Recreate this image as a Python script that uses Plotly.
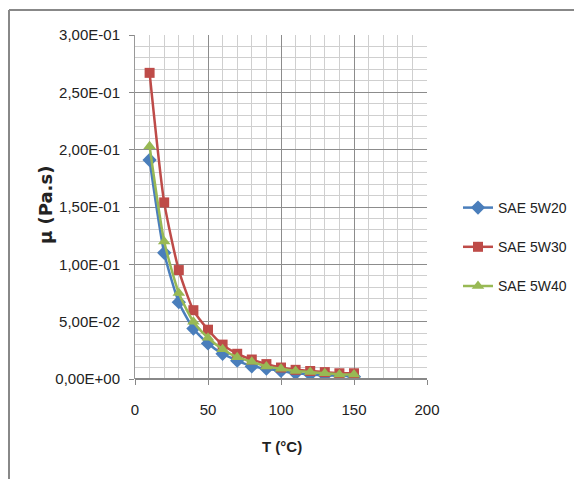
import plotly.graph_objects as go

temperature = [10, 20, 30, 40, 50, 60, 70, 80, 90, 100, 110, 120, 130, 140, 150]
sae_5w20 = [0.191, 0.110, 0.067, 0.044, 0.031, 0.022, 0.016, 0.011, 0.009, 0.007, 0.005, 0.004, 0.003, 0.003, 0.002]
sae_5w30 = [0.267, 0.154, 0.095, 0.060, 0.043, 0.030, 0.022, 0.017, 0.013, 0.010, 0.008, 0.007, 0.006, 0.005, 0.005]
sae_5w40 = [0.203, 0.120, 0.075, 0.050, 0.036, 0.026, 0.019, 0.015, 0.011, 0.009, 0.007, 0.006, 0.005, 0.004, 0.004]

y_tick_vals = [0, 0.05, 0.10, 0.15, 0.20, 0.25, 0.30]
y_tick_text = ["0,00E+00", "5,00E-02", "1,00E-01", "1,50E-01", "2,00E-01", "2,50E-01", "3,00E-01"]
x_tick_vals = [0, 50, 100, 150, 200]

FONT = "Liberation Sans Narrow, Arial Narrow, Liberation Sans, sans-serif"

fig = go.Figure()
series = [
    ("SAE 5W20", sae_5w20, "#4a7ebb", "diamond", 11),
    ("SAE 5W30", sae_5w30, "#be4b48", "square", 10),
    ("SAE 5W40", sae_5w40, "#98b954", "triangle-up", 11),
]
for i, (name, vals, col, sym, sz) in enumerate(series):
    fig.add_trace(go.Scatter(
        x=temperature, y=vals, name=name, mode="lines+markers",
        line=dict(color=col, width=2.5, shape="spline", smoothing=0.6),
        marker=dict(symbol=sym, size=sz, color=col),
        legendgroup=str(i),
    ))

# page has an 8px body margin: work in page coordinates and subtract it
OFF = 8
W, H = 582 - OFF, 479 - OFF
L, T = 135 - OFF, 35 - OFF
pw, ph = 292, 344
R, B = W - L - pw, H - T - ph


def px(xp):  # page x -> paper x
    return (xp - OFF - L) / pw


def py(yp):  # page y -> paper y
    return (T + ph - (yp - OFF)) / ph


fig.update_layout(
    width=W, height=H,
    margin=dict(l=L, r=R, t=T, b=B, autoexpand=False),
    paper_bgcolor="white", plot_bgcolor="white",
    font=dict(family=FONT, size=14, color="#222"),
    showlegend=True,
    legend=dict(xref="container", yref="container",
                x=(458 - OFF) / W, y=1 - (192 - OFF) / H, xanchor="left", yanchor="top",
                font=dict(size=14, family=FONT), tracegroupgap=18, itemwidth=30,
                bgcolor="rgba(0,0,0,0)"),
    xaxis=dict(range=[0, 200], tickvals=x_tick_vals, ticks="outside", ticklen=5,
               tickcolor="#888", showgrid=True, gridcolor="#8c8c8c", gridwidth=1,
               minor=dict(dtick=10, showgrid=True, gridcolor="#cfcfcf", gridwidth=1),
               zeroline=False, showline=False, ticklabelstandoff=12,
               tickfont=dict(size=15, family=FONT)),
    yaxis=dict(range=[0, 0.3], tickvals=y_tick_vals, ticktext=y_tick_text,
               ticks="outside", ticklen=5, tickcolor="#888",
               showgrid=True, gridcolor="#8c8c8c", gridwidth=1,
               minor=dict(dtick=0.01, showgrid=True, gridcolor="#cfcfcf", gridwidth=1),
               zeroline=False, showline=True, linecolor="#999", linewidth=1,
               ticklabelstandoff=6, tickfont=dict(size=15, family=FONT)),
    annotations=[
        dict(text="<b>µ (Pa.s)</b>", textangle=-90, xref="paper", yref="paper",
             x=px(45), y=py(205), xanchor="center", yanchor="middle", showarrow=False,
             font=dict(size=18, family="DejaVu Sans, sans-serif")),
        dict(text="<b>T (°C)</b>", xref="paper", yref="paper",
             x=px(282), y=py(447), xanchor="center", yanchor="middle", showarrow=False,
             font=dict(size=15, family=FONT)),
    ],
    shapes=[
        dict(type="line", xref="paper", yref="paper", x0=0, x1=1, y0=0, y1=0,
             line=dict(color="#888", width=2)),
        dict(type="line", xref="paper", yref="paper", x0=px(9), x1=px(600),
             y0=py(10), y1=py(10), line=dict(color="#888", width=2)),
        dict(type="line", xref="paper", yref="paper", x0=px(9), x1=px(9),
             y0=py(10), y1=py(500), line=dict(color="#888", width=2)),
    ],
)

fig.write_html("out.html")
